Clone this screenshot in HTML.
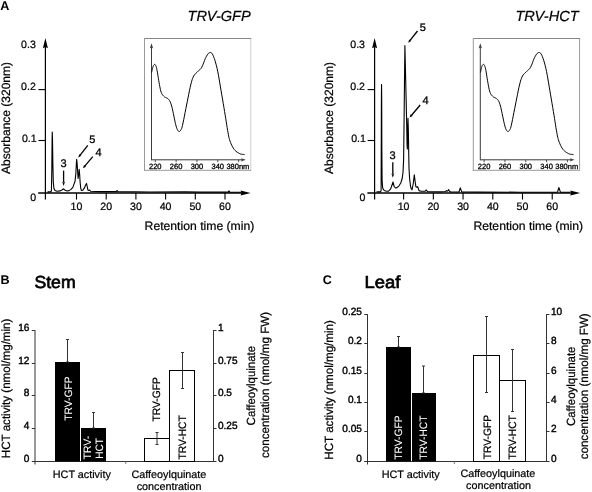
<!DOCTYPE html>
<html><head><meta charset="utf-8"><style>
html,body{margin:0;padding:0;background:#fff;}
svg{display:block;will-change:transform;font-family:"Liberation Sans", sans-serif;text-rendering:geometricPrecision;}
</style></head><body>
<svg width="592" height="492" viewBox="0 0 592 492">
<rect width="592" height="492" fill="#fff"/>
<text x="0.3" y="9.9" font-size="12.6" text-anchor="start" font-weight="bold" font-style="normal" fill="#000">A</text>
<line x1="45.4" y1="46" x2="45.4" y2="199.6" stroke="#000" stroke-width="1.2"/>
<path d="M45.4,38 L42.9,48.2 L45.4,47 L47.9,48.2 Z" fill="#000"/>
<line x1="38.2" y1="193" x2="244.6" y2="193" stroke="#000" stroke-width="1.4"/>
<path d="M250.6,193 L240.6,190.6 L241.5,193 L240.6,195.4 Z" fill="#000"/>
<line x1="38.4" y1="140.5" x2="45.4" y2="140.5" stroke="#000" stroke-width="1.1"/>
<line x1="38.4" y1="89.6" x2="45.4" y2="89.6" stroke="#000" stroke-width="1.1"/>
<text x="35.8" y="47.8" font-size="10.6" text-anchor="end" font-weight="normal" font-style="normal" fill="#000" stroke="#000" stroke-width="0.22">0.3</text>
<text x="35.8" y="90" font-size="10.6" text-anchor="end" font-weight="normal" font-style="normal" fill="#000" stroke="#000" stroke-width="0.22">0.2</text>
<text x="36.7" y="141.6" font-size="10.6" text-anchor="end" font-weight="normal" font-style="normal" fill="#000" stroke="#000" stroke-width="0.22">0.1</text>
<text x="36.1" y="200.6" font-size="10.6" text-anchor="end" font-weight="normal" font-style="normal" fill="#000" stroke="#000" stroke-width="0.22">0</text>
<line x1="76.5" y1="193" x2="76.5" y2="199.6" stroke="#000" stroke-width="1.1"/>
<text x="76.5" y="209.8" font-size="10.6" text-anchor="middle" font-weight="normal" font-style="normal" fill="#000" stroke="#000" stroke-width="0.22">10</text>
<line x1="106.2" y1="193" x2="106.2" y2="199.6" stroke="#000" stroke-width="1.1"/>
<text x="106.2" y="209.8" font-size="10.6" text-anchor="middle" font-weight="normal" font-style="normal" fill="#000" stroke="#000" stroke-width="0.22">20</text>
<line x1="135.9" y1="193" x2="135.9" y2="199.6" stroke="#000" stroke-width="1.1"/>
<text x="135.9" y="209.8" font-size="10.6" text-anchor="middle" font-weight="normal" font-style="normal" fill="#000" stroke="#000" stroke-width="0.22">30</text>
<line x1="165.6" y1="193" x2="165.6" y2="199.6" stroke="#000" stroke-width="1.1"/>
<text x="165.6" y="209.8" font-size="10.6" text-anchor="middle" font-weight="normal" font-style="normal" fill="#000" stroke="#000" stroke-width="0.22">40</text>
<line x1="195.3" y1="193" x2="195.3" y2="199.6" stroke="#000" stroke-width="1.1"/>
<text x="195.3" y="209.8" font-size="10.6" text-anchor="middle" font-weight="normal" font-style="normal" fill="#000" stroke="#000" stroke-width="0.22">50</text>
<line x1="225" y1="193" x2="225" y2="199.6" stroke="#000" stroke-width="1.1"/>
<text x="225" y="209.8" font-size="10.6" text-anchor="middle" font-weight="normal" font-style="normal" fill="#000" stroke="#000" stroke-width="0.22">60</text>
<path d="M47.50,191.90 L50.50,191.90 L51.40,191.00 L51.80,170.00 L52.10,140.00 L52.25,132.00 L52.50,140.00 L52.90,165.00 L53.30,182.00 L53.90,188.50 L55.00,190.40 L57.00,191.30 L60.00,190.90 L62.00,190.00 L63.60,188.80 L65.20,190.30 L67.00,191.00 L69.00,190.60 L71.00,189.40 L73.00,187.20 L73.80,184.60 L75.00,181.50 L75.80,174.00 L76.30,165.00 L76.65,159.30 L77.10,163.00 L77.60,171.00 L78.10,178.50 L78.60,175.00 L79.20,169.30 L79.70,175.00 L80.10,182.00 L80.70,187.80 L81.40,190.50 L82.80,190.20 L84.30,188.20 L85.50,185.20 L86.50,183.40 L87.20,186.50 L87.90,190.10 L88.80,190.50 L89.70,190.00 L90.50,191.20 L100.00,191.60 L116.30,191.60 L117.10,190.50 L117.90,191.60 L150.00,192.00 L185.00,191.90 L200.00,192.10 L228.30,192.10 L229.00,190.90 L229.70,192.10 L241.00,192.20" fill="none" stroke="#000" stroke-width="1.1" stroke-linejoin="round"/>
<text x="144.6" y="230" font-size="12.2" text-anchor="start" font-weight="normal" font-style="normal" fill="#000" stroke="#000" stroke-width="0.22">Retention time (min)</text>
<text x="10.4" y="118" font-size="12" text-anchor="middle" font-weight="normal" font-style="normal" fill="#000" transform="rotate(-90 10.4 118)" stroke="#000" stroke-width="0.22">Absorbance (320nm)</text>
<text x="187.5" y="20.5" font-size="14.6" text-anchor="start" font-weight="normal" font-style="italic" fill="#000" stroke="#000" stroke-width="0.22">TRV-GFP</text>
<line x1="374.6" y1="46" x2="374.6" y2="199.6" stroke="#000" stroke-width="1.2"/>
<path d="M374.6,38 L372.1,48.2 L374.6,47 L377.1,48.2 Z" fill="#000"/>
<line x1="367.4" y1="193" x2="574.2" y2="193" stroke="#000" stroke-width="1.4"/>
<path d="M580.2,193 L570.2,190.6 L571.1,193 L570.2,195.4 Z" fill="#000"/>
<line x1="367.6" y1="140.5" x2="374.6" y2="140.5" stroke="#000" stroke-width="1.1"/>
<line x1="367.6" y1="89.6" x2="374.6" y2="89.6" stroke="#000" stroke-width="1.1"/>
<text x="365" y="47.8" font-size="10.6" text-anchor="end" font-weight="normal" font-style="normal" fill="#000" stroke="#000" stroke-width="0.22">0.3</text>
<text x="365" y="90" font-size="10.6" text-anchor="end" font-weight="normal" font-style="normal" fill="#000" stroke="#000" stroke-width="0.22">0.2</text>
<text x="365.9" y="141.6" font-size="10.6" text-anchor="end" font-weight="normal" font-style="normal" fill="#000" stroke="#000" stroke-width="0.22">0.1</text>
<text x="365.3" y="200.6" font-size="10.6" text-anchor="end" font-weight="normal" font-style="normal" fill="#000" stroke="#000" stroke-width="0.22">0</text>
<line x1="403.62" y1="193" x2="403.62" y2="199.6" stroke="#000" stroke-width="1.1"/>
<text x="403.62" y="209.8" font-size="10.6" text-anchor="middle" font-weight="normal" font-style="normal" fill="#000" stroke="#000" stroke-width="0.22">10</text>
<line x1="433.34" y1="193" x2="433.34" y2="199.6" stroke="#000" stroke-width="1.1"/>
<text x="433.34" y="209.8" font-size="10.6" text-anchor="middle" font-weight="normal" font-style="normal" fill="#000" stroke="#000" stroke-width="0.22">20</text>
<line x1="463.06" y1="193" x2="463.06" y2="199.6" stroke="#000" stroke-width="1.1"/>
<text x="463.06" y="209.8" font-size="10.6" text-anchor="middle" font-weight="normal" font-style="normal" fill="#000" stroke="#000" stroke-width="0.22">30</text>
<line x1="492.78" y1="193" x2="492.78" y2="199.6" stroke="#000" stroke-width="1.1"/>
<text x="492.78" y="209.8" font-size="10.6" text-anchor="middle" font-weight="normal" font-style="normal" fill="#000" stroke="#000" stroke-width="0.22">40</text>
<line x1="522.5" y1="193" x2="522.5" y2="199.6" stroke="#000" stroke-width="1.1"/>
<text x="522.5" y="209.8" font-size="10.6" text-anchor="middle" font-weight="normal" font-style="normal" fill="#000" stroke="#000" stroke-width="0.22">50</text>
<line x1="552.22" y1="193" x2="552.22" y2="199.6" stroke="#000" stroke-width="1.1"/>
<text x="552.22" y="209.8" font-size="10.6" text-anchor="middle" font-weight="normal" font-style="normal" fill="#000" stroke="#000" stroke-width="0.22">60</text>
<path d="M376.50,191.90 L380.40,191.90 L381.10,190.80 L381.25,150.00 L381.40,100.00 L381.55,84.60 L381.70,100.00 L381.85,150.00 L382.10,180.00 L382.60,187.60 L383.20,189.20 L384.20,190.50 L386.50,191.30 L388.50,191.20 L390.50,189.20 L391.50,186.50 L393.00,182.00 L394.20,186.60 L395.50,188.00 L397.00,187.60 L399.00,185.80 L400.80,183.00 L402.20,178.50 L403.00,172.50 L403.60,160.00 L404.10,120.00 L404.50,80.00 L404.90,45.60 L405.50,72.00 L406.10,98.00 L406.70,125.00 L407.10,146.00 L407.35,149.00 L407.60,132.00 L408.00,118.40 L408.40,132.00 L408.70,152.00 L409.00,168.00 L409.60,178.50 L410.50,186.00 L411.20,188.60 L412.00,189.80 L413.20,184.00 L414.30,174.90 L415.20,182.00 L415.90,186.80 L416.80,187.30 L417.70,186.70 L419.00,190.60 L421.00,191.20 L425.00,191.30 L426.30,190.00 L427.50,191.60 L440.00,191.90 L445.50,191.50 L446.30,190.60 L447.20,191.30 L448.00,190.60 L448.60,189.60 L449.30,191.00 L450.50,192.00 L459.00,192.00 L459.80,189.50 L460.30,187.80 L460.90,189.60 L461.80,192.00 L480.00,192.10 L520.00,192.20 L557.60,192.10 L558.40,189.00 L558.90,187.60 L559.50,189.30 L560.40,192.10 L570.00,192.20" fill="none" stroke="#000" stroke-width="1.1" stroke-linejoin="round"/>
<text x="473.4" y="230" font-size="12.2" text-anchor="start" font-weight="normal" font-style="normal" fill="#000" stroke="#000" stroke-width="0.22">Retention time (min)</text>
<text x="333.2" y="118" font-size="12" text-anchor="middle" font-weight="normal" font-style="normal" fill="#000" transform="rotate(-90 333.2 118)" stroke="#000" stroke-width="0.22">Absorbance (320nm)</text>
<text x="515.4" y="20.5" font-size="14.6" text-anchor="start" font-weight="normal" font-style="italic" fill="#000" stroke="#000" stroke-width="0.22">TRV-HCT</text>
<text x="63.6" y="167" font-size="11" text-anchor="middle" font-weight="normal" font-style="normal" fill="#000" stroke="#000" stroke-width="0.3">3</text>
<line x1="63.6" y1="170.6" x2="63.6" y2="182" stroke="#000" stroke-width="1.3"/>
<path d="M63.6,186 L62.2,181.6 L63.6,182.6 L65,181.6 Z" fill="#000"/>
<text x="92.4" y="142.6" font-size="11" text-anchor="middle" font-weight="normal" font-style="normal" fill="#000" stroke="#000" stroke-width="0.3">5</text>
<line x1="87.8" y1="145.4" x2="79.9673" y2="155.376" stroke="#000" stroke-width="1.3"/>
<path d="M78.30,157.50 L79.21,154.15 L81.34,155.82 Z" fill="#000"/>
<text x="98.5" y="156.4" font-size="11" text-anchor="middle" font-weight="normal" font-style="normal" fill="#000" stroke="#000" stroke-width="0.3">4</text>
<line x1="92.8" y1="156.6" x2="84.7424" y2="166.138" stroke="#000" stroke-width="1.3"/>
<path d="M83.00,168.20 L84.03,164.88 L86.10,166.63 Z" fill="#000"/>
<text x="392.6" y="158.5" font-size="11" text-anchor="middle" font-weight="normal" font-style="normal" fill="#000" stroke="#000" stroke-width="0.3">3</text>
<line x1="392.8" y1="162.3" x2="392.8" y2="174" stroke="#000" stroke-width="1.3"/>
<path d="M392.8,177.8 L391.4,173.4 L392.8,174.4 L394.2,173.4 Z" fill="#000"/>
<text x="422.9" y="31.2" font-size="11" text-anchor="middle" font-weight="normal" font-style="normal" fill="#000" stroke="#000" stroke-width="0.3">5</text>
<line x1="417.5" y1="31" x2="409.871" y2="40.6794" stroke="#000" stroke-width="1.3"/>
<path d="M408.20,42.80 L409.12,39.45 L411.24,41.12 Z" fill="#000"/>
<text x="425.5" y="103.6" font-size="11" text-anchor="middle" font-weight="normal" font-style="normal" fill="#000" stroke="#000" stroke-width="0.3">4</text>
<line x1="420.2" y1="105" x2="411.338" y2="115.534" stroke="#000" stroke-width="1.3"/>
<path d="M409.60,117.60 L410.63,114.28 L412.69,116.02 Z" fill="#000"/>
<line x1="144.5" y1="38.5" x2="251.3" y2="38.5" stroke="#858585" stroke-width="1"/>
<line x1="144.5" y1="38" x2="144.5" y2="170.8" stroke="#9a9a9a" stroke-width="1"/>
<line x1="144" y1="170.3" x2="251.3" y2="170.3" stroke="#9a9a9a" stroke-width="1"/>
<line x1="250.8" y1="39" x2="250.8" y2="169.8" stroke="#cfcfcf" stroke-width="1"/>
<line x1="151.5" y1="46.5" x2="151.5" y2="160.3" stroke="#3a3a3a" stroke-width="1"/>
<path d="M151.5,43.3 L149.8,48.4 L151.5,47.2 L153.2,48.4 Z" fill="#3a3a3a"/>
<line x1="151.5" y1="159.8" x2="242" y2="159.8" stroke="#3a3a3a" stroke-width="1"/>
<path d="M245.8,159.8 L241,158.2 L241.9,159.8 L241,161.4 Z" fill="#3a3a3a"/>
<line x1="155.3" y1="159.8" x2="155.3" y2="162.2" stroke="#3a3a3a" stroke-width="0.9"/>
<text x="155.3" y="169.3" font-size="7.5" text-anchor="middle" font-weight="normal" font-style="normal" fill="#000" stroke="#000" stroke-width="0.3">220</text>
<line x1="176.124" y1="159.8" x2="176.124" y2="162.2" stroke="#3a3a3a" stroke-width="0.9"/>
<text x="176.124" y="169.3" font-size="7.5" text-anchor="middle" font-weight="normal" font-style="normal" fill="#000" stroke="#000" stroke-width="0.3">260</text>
<line x1="196.948" y1="159.8" x2="196.948" y2="162.2" stroke="#3a3a3a" stroke-width="0.9"/>
<text x="196.948" y="169.3" font-size="7.5" text-anchor="middle" font-weight="normal" font-style="normal" fill="#000" stroke="#000" stroke-width="0.3">300</text>
<line x1="217.772" y1="159.8" x2="217.772" y2="162.2" stroke="#3a3a3a" stroke-width="0.9"/>
<text x="217.772" y="169.3" font-size="7.5" text-anchor="middle" font-weight="normal" font-style="normal" fill="#000" stroke="#000" stroke-width="0.3">340</text>
<line x1="238.596" y1="159.8" x2="238.596" y2="162.2" stroke="#3a3a3a" stroke-width="0.9"/>
<text x="237.896" y="169.3" font-size="7.5" text-anchor="middle" font-weight="normal" font-style="normal" fill="#000" stroke="#000" stroke-width="0.3">380nm</text>
<path d="M151.60,72.50 L151.70,72.05 L151.83,71.43 L151.99,70.69 L152.16,69.91 L152.33,69.16 L152.50,68.50 L152.66,67.91 L152.82,67.32 L152.98,66.76 L153.15,66.24 L153.32,65.78 L153.50,65.40 L153.69,65.09 L153.89,64.83 L154.09,64.63 L154.30,64.49 L154.50,64.42 L154.70,64.40 L154.89,64.43 L155.07,64.50 L155.24,64.63 L155.42,64.84 L155.61,65.16 L155.80,65.60 L156.00,66.12 L156.19,66.69 L156.39,67.36 L156.61,68.19 L156.84,69.22 L157.10,70.50 L157.39,72.14 L157.71,74.12 L158.05,76.31 L158.40,78.56 L158.75,80.73 L159.10,82.70 L159.43,84.51 L159.76,86.29 L160.09,87.99 L160.43,89.59 L160.80,91.04 L161.20,92.30 L161.64,93.35 L162.10,94.20 L162.59,94.91 L163.11,95.52 L163.64,96.07 L164.20,96.60 L164.80,97.08 L165.46,97.45 L166.14,97.77 L166.81,98.07 L167.44,98.40 L168.00,98.80 L168.47,99.23 L168.89,99.65 L169.26,100.09 L169.60,100.61 L169.95,101.23 L170.30,102.00 L170.65,102.88 L170.98,103.81 L171.31,104.86 L171.64,106.06 L172.00,107.46 L172.40,109.10 L172.86,111.15 L173.37,113.60 L173.91,116.26 L174.45,118.90 L174.95,121.31 L175.40,123.30 L175.78,124.84 L176.12,126.11 L176.43,127.16 L176.71,128.04 L177.00,128.80 L177.30,129.50 L177.61,130.12 L177.91,130.61 L178.21,130.98 L178.51,131.25 L178.81,131.42 L179.10,131.50 L179.39,131.49 L179.67,131.37 L179.96,131.16 L180.24,130.86 L180.52,130.47 L180.80,130.00 L181.06,129.60 L181.28,129.28 L181.50,128.88 L181.76,128.22 L182.08,127.12 L182.50,125.40 L183.04,122.91 L183.69,119.76 L184.40,116.16 L185.14,112.36 L185.89,108.56 L186.60,105.00 L187.30,101.52 L188.01,97.90 L188.72,94.29 L189.41,90.84 L190.08,87.69 L190.70,85.00 L191.25,82.81 L191.74,81.02 L192.20,79.53 L192.66,78.26 L193.15,77.11 L193.70,76.00 L194.32,74.99 L194.99,74.16 L195.69,73.46 L196.40,72.82 L197.11,72.19 L197.80,71.50 L198.47,70.84 L199.14,70.26 L199.80,69.69 L200.46,69.04 L201.13,68.24 L201.80,67.20 L202.48,65.81 L203.17,64.12 L203.87,62.28 L204.56,60.42 L205.24,58.71 L205.90,57.30 L206.54,56.13 L207.17,55.08 L207.79,54.17 L208.40,53.43 L209.01,52.90 L209.60,52.60 L210.18,52.49 L210.73,52.53 L211.28,52.77 L211.83,53.27 L212.40,54.06 L213.00,55.20 L213.64,56.69 L214.32,58.51 L215.01,60.62 L215.71,63.00 L216.41,65.64 L217.10,68.50 L217.77,71.67 L218.44,75.19 L219.10,78.96 L219.76,82.88 L220.43,86.86 L221.10,90.80 L221.79,94.83 L222.51,99.04 L223.22,103.31 L223.93,107.51 L224.59,111.52 L225.20,115.20 L225.75,118.60 L226.26,121.82 L226.73,124.84 L227.17,127.65 L227.59,130.21 L228.00,132.50 L228.36,134.43 L228.65,135.99 L228.92,137.31 L229.21,138.51 L229.55,139.70 L230.00,141.00 L230.54,142.44 L231.16,143.93 L231.83,145.41 L232.54,146.84 L233.31,148.15 L234.10,149.30 L234.95,150.29 L235.88,151.15 L236.84,151.91 L237.82,152.56 L238.78,153.12 L239.70,153.60 L240.63,153.97 L241.60,154.21 L242.55,154.37 L243.43,154.46 L244.16,154.53 L244.70,154.60" fill="none" stroke="#000" stroke-width="1.0"/>
<line x1="473.3" y1="38.5" x2="580.1" y2="38.5" stroke="#858585" stroke-width="1"/>
<line x1="473.3" y1="38" x2="473.3" y2="170.8" stroke="#9a9a9a" stroke-width="1"/>
<line x1="472.8" y1="170.3" x2="580.1" y2="170.3" stroke="#9a9a9a" stroke-width="1"/>
<line x1="579.6" y1="39" x2="579.6" y2="169.8" stroke="#9a9a9a" stroke-width="1"/>
<line x1="480.3" y1="46.5" x2="480.3" y2="160.3" stroke="#3a3a3a" stroke-width="1"/>
<path d="M480.3,43.3 L478.6,48.4 L480.3,47.2 L482,48.4 Z" fill="#3a3a3a"/>
<line x1="480.3" y1="159.8" x2="570.8" y2="159.8" stroke="#3a3a3a" stroke-width="1"/>
<path d="M574.6,159.8 L569.8,158.2 L570.7,159.8 L569.8,161.4 Z" fill="#3a3a3a"/>
<line x1="484.1" y1="159.8" x2="484.1" y2="162.2" stroke="#3a3a3a" stroke-width="0.9"/>
<text x="484.1" y="169.3" font-size="7.5" text-anchor="middle" font-weight="normal" font-style="normal" fill="#000" stroke="#000" stroke-width="0.3">220</text>
<line x1="504.924" y1="159.8" x2="504.924" y2="162.2" stroke="#3a3a3a" stroke-width="0.9"/>
<text x="504.924" y="169.3" font-size="7.5" text-anchor="middle" font-weight="normal" font-style="normal" fill="#000" stroke="#000" stroke-width="0.3">260</text>
<line x1="525.748" y1="159.8" x2="525.748" y2="162.2" stroke="#3a3a3a" stroke-width="0.9"/>
<text x="525.748" y="169.3" font-size="7.5" text-anchor="middle" font-weight="normal" font-style="normal" fill="#000" stroke="#000" stroke-width="0.3">300</text>
<line x1="546.572" y1="159.8" x2="546.572" y2="162.2" stroke="#3a3a3a" stroke-width="0.9"/>
<text x="546.572" y="169.3" font-size="7.5" text-anchor="middle" font-weight="normal" font-style="normal" fill="#000" stroke="#000" stroke-width="0.3">340</text>
<line x1="567.396" y1="159.8" x2="567.396" y2="162.2" stroke="#3a3a3a" stroke-width="0.9"/>
<text x="566.696" y="169.3" font-size="7.5" text-anchor="middle" font-weight="normal" font-style="normal" fill="#000" stroke="#000" stroke-width="0.3">380nm</text>
<path d="M480.40,72.50 L480.50,72.05 L480.63,71.43 L480.79,70.69 L480.96,69.91 L481.13,69.16 L481.30,68.50 L481.46,67.91 L481.62,67.32 L481.78,66.76 L481.95,66.24 L482.12,65.78 L482.30,65.40 L482.49,65.09 L482.69,64.83 L482.89,64.63 L483.10,64.49 L483.30,64.42 L483.50,64.40 L483.69,64.43 L483.87,64.50 L484.04,64.63 L484.22,64.84 L484.41,65.16 L484.60,65.60 L484.80,66.12 L484.99,66.69 L485.19,67.36 L485.41,68.19 L485.64,69.22 L485.90,70.50 L486.19,72.14 L486.51,74.12 L486.85,76.31 L487.20,78.56 L487.55,80.73 L487.90,82.70 L488.23,84.51 L488.56,86.29 L488.89,87.99 L489.23,89.59 L489.60,91.04 L490.00,92.30 L490.44,93.35 L490.90,94.20 L491.39,94.91 L491.91,95.52 L492.44,96.07 L493.00,96.60 L493.60,97.08 L494.26,97.45 L494.94,97.77 L495.61,98.07 L496.24,98.40 L496.80,98.80 L497.27,99.23 L497.69,99.65 L498.06,100.09 L498.40,100.61 L498.75,101.23 L499.10,102.00 L499.45,102.88 L499.78,103.81 L500.11,104.86 L500.44,106.06 L500.80,107.46 L501.20,109.10 L501.66,111.15 L502.17,113.60 L502.71,116.26 L503.25,118.90 L503.75,121.31 L504.20,123.30 L504.58,124.84 L504.92,126.11 L505.23,127.16 L505.51,128.04 L505.80,128.80 L506.10,129.50 L506.41,130.12 L506.71,130.61 L507.01,130.98 L507.31,131.25 L507.61,131.42 L507.90,131.50 L508.19,131.49 L508.47,131.37 L508.76,131.16 L509.04,130.86 L509.32,130.47 L509.60,130.00 L509.86,129.60 L510.08,129.28 L510.30,128.88 L510.56,128.22 L510.88,127.12 L511.30,125.40 L511.84,122.91 L512.49,119.76 L513.20,116.16 L513.94,112.36 L514.69,108.56 L515.40,105.00 L516.10,101.52 L516.81,97.90 L517.52,94.29 L518.21,90.84 L518.88,87.69 L519.50,85.00 L520.05,82.81 L520.54,81.02 L521.00,79.53 L521.46,78.26 L521.95,77.11 L522.50,76.00 L523.12,74.99 L523.79,74.16 L524.49,73.46 L525.20,72.82 L525.91,72.19 L526.60,71.50 L527.27,70.84 L527.94,70.26 L528.60,69.69 L529.26,69.04 L529.93,68.24 L530.60,67.20 L531.28,65.81 L531.97,64.12 L532.67,62.28 L533.36,60.42 L534.04,58.71 L534.70,57.30 L535.34,56.13 L535.97,55.08 L536.59,54.17 L537.20,53.43 L537.81,52.90 L538.40,52.60 L538.98,52.49 L539.53,52.53 L540.07,52.77 L540.63,53.27 L541.20,54.06 L541.80,55.20 L542.44,56.69 L543.12,58.51 L543.81,60.62 L544.51,63.00 L545.21,65.64 L545.90,68.50 L546.57,71.67 L547.24,75.19 L547.90,78.96 L548.56,82.88 L549.23,86.86 L549.90,90.80 L550.59,94.83 L551.31,99.04 L552.02,103.31 L552.73,107.51 L553.39,111.52 L554.00,115.20 L554.55,118.60 L555.06,121.82 L555.53,124.84 L555.97,127.65 L556.39,130.21 L556.80,132.50 L557.16,134.43 L557.45,135.99 L557.72,137.31 L558.01,138.51 L558.35,139.70 L558.80,141.00 L559.34,142.44 L559.96,143.93 L560.62,145.41 L561.34,146.84 L562.11,148.15 L562.90,149.30 L563.75,150.29 L564.68,151.15 L565.64,151.91 L566.62,152.56 L567.58,153.12 L568.50,153.60 L569.43,153.97 L570.40,154.21 L571.35,154.37 L572.23,154.46 L572.96,154.53 L573.50,154.60" fill="none" stroke="#000" stroke-width="1.0"/>
<text x="0.6" y="284.4" font-size="12.6" text-anchor="start" font-weight="bold" font-style="normal" fill="#000">B</text>
<text x="34.4" y="287.8" font-size="17.4" text-anchor="start" font-weight="normal" font-style="normal" fill="#000" textLength="41.2" lengthAdjust="spacingAndGlyphs" stroke="#000" stroke-width="0.7">Stem</text>
<line x1="35" y1="330.1" x2="35" y2="464.5" stroke="#333" stroke-width="1"/>
<line x1="213.5" y1="330.1" x2="213.5" y2="462" stroke="#333" stroke-width="1"/>
<line x1="32" y1="461.5" x2="213.5" y2="461.5" stroke="#333" stroke-width="1"/>
<line x1="125.8" y1="461.5" x2="125.8" y2="464" stroke="#777" stroke-width="1"/>
<line x1="31.8" y1="330.5" x2="35" y2="330.5" stroke="#333" stroke-width="1"/>
<text x="29.4" y="330.6" font-size="10.4" text-anchor="end" font-weight="normal" font-style="normal" fill="#000" textLength="11.2" lengthAdjust="spacingAndGlyphs" stroke="#000" stroke-width="0.4">16</text>
<line x1="31.8" y1="363.5" x2="35" y2="363.5" stroke="#333" stroke-width="1"/>
<text x="29.4" y="363.6" font-size="10.4" text-anchor="end" font-weight="normal" font-style="normal" fill="#000" textLength="11.2" lengthAdjust="spacingAndGlyphs" stroke="#000" stroke-width="0.4">12</text>
<line x1="31.8" y1="395.5" x2="35" y2="395.5" stroke="#333" stroke-width="1"/>
<text x="29.4" y="395.6" font-size="10.4" text-anchor="end" font-weight="normal" font-style="normal" fill="#000" textLength="5.6" lengthAdjust="spacingAndGlyphs" stroke="#000" stroke-width="0.4">8</text>
<line x1="31.8" y1="428.5" x2="35" y2="428.5" stroke="#333" stroke-width="1"/>
<text x="29.4" y="428.6" font-size="10.4" text-anchor="end" font-weight="normal" font-style="normal" fill="#000" textLength="5.6" lengthAdjust="spacingAndGlyphs" stroke="#000" stroke-width="0.4">4</text>
<line x1="31.8" y1="461.5" x2="35" y2="461.5" stroke="#333" stroke-width="1"/>
<text x="29.4" y="461.6" font-size="10.4" text-anchor="end" font-weight="normal" font-style="normal" fill="#000" textLength="5.6" lengthAdjust="spacingAndGlyphs" stroke="#000" stroke-width="0.4">0</text>
<line x1="213.5" y1="330.5" x2="216.5" y2="330.5" stroke="#333" stroke-width="1"/>
<text x="217.9" y="330.6" font-size="10.4" text-anchor="start" font-weight="normal" font-style="normal" fill="#000" textLength="5.6" lengthAdjust="spacingAndGlyphs" stroke="#000" stroke-width="0.4">1</text>
<line x1="213.5" y1="363.5" x2="216.5" y2="363.5" stroke="#333" stroke-width="1"/>
<text x="217.9" y="363.6" font-size="10.4" text-anchor="start" font-weight="normal" font-style="normal" fill="#000" textLength="19.6" lengthAdjust="spacingAndGlyphs" stroke="#000" stroke-width="0.4">0.75</text>
<line x1="213.5" y1="395.5" x2="216.5" y2="395.5" stroke="#333" stroke-width="1"/>
<text x="217.9" y="395.6" font-size="10.4" text-anchor="start" font-weight="normal" font-style="normal" fill="#000" textLength="14" lengthAdjust="spacingAndGlyphs" stroke="#000" stroke-width="0.4">0.5</text>
<line x1="213.5" y1="428.5" x2="216.5" y2="428.5" stroke="#333" stroke-width="1"/>
<text x="217.9" y="428.6" font-size="10.4" text-anchor="start" font-weight="normal" font-style="normal" fill="#000" textLength="19.6" lengthAdjust="spacingAndGlyphs" stroke="#000" stroke-width="0.4">0.25</text>
<line x1="213.5" y1="461.5" x2="216.5" y2="461.5" stroke="#333" stroke-width="1"/>
<text x="217.9" y="461.6" font-size="10.4" text-anchor="start" font-weight="normal" font-style="normal" fill="#000" textLength="5.6" lengthAdjust="spacingAndGlyphs" stroke="#000" stroke-width="0.4">0</text>
<rect x="55" y="362" width="25" height="99.5" fill="#000"/>
<rect x="81" y="428" width="25" height="33.5" fill="#000"/>
<rect x="144.5" y="438.5" width="25" height="23" fill="#fff" stroke="#000" stroke-width="1"/>
<rect x="169.5" y="370.5" width="25" height="91" fill="#fff" stroke="#000" stroke-width="1"/>
<line x1="67.5" y1="339.5" x2="67.5" y2="362" stroke="#333" stroke-width="1"/>
<line x1="66" y1="339.5" x2="69" y2="339.5" stroke="#333" stroke-width="1"/>
<line x1="66" y1="362" x2="69" y2="362" stroke="#333" stroke-width="1"/>
<line x1="93.5" y1="412.5" x2="93.5" y2="428" stroke="#333" stroke-width="1"/>
<line x1="92" y1="412.5" x2="95" y2="412.5" stroke="#333" stroke-width="1"/>
<line x1="92" y1="428" x2="95" y2="428" stroke="#333" stroke-width="1"/>
<line x1="157" y1="432.5" x2="157" y2="444.5" stroke="#333" stroke-width="1"/>
<line x1="155.5" y1="432.5" x2="158.5" y2="432.5" stroke="#333" stroke-width="1"/>
<line x1="155.5" y1="444.5" x2="158.5" y2="444.5" stroke="#333" stroke-width="1"/>
<line x1="182.5" y1="352.5" x2="182.5" y2="388.5" stroke="#333" stroke-width="1"/>
<line x1="181" y1="352.5" x2="184" y2="352.5" stroke="#333" stroke-width="1"/>
<line x1="181" y1="388.5" x2="184" y2="388.5" stroke="#333" stroke-width="1"/>
<text x="71.7" y="398.5" font-size="10.7" text-anchor="middle" font-weight="normal" font-style="normal" fill="#fff" transform="rotate(-90 71.7 398.5)" textLength="44.3259" lengthAdjust="spacingAndGlyphs" stroke="#fff" stroke-width="0.05">TRV-GFP</text>
<text x="90.6" y="447.6" font-size="10.7" text-anchor="middle" font-weight="normal" font-style="normal" fill="#fff" transform="rotate(-90 90.6 447.6)" textLength="23.5633" lengthAdjust="spacingAndGlyphs" stroke="#fff" stroke-width="0.05">TRV-</text>
<text x="103" y="448.4" font-size="10.7" text-anchor="middle" font-weight="normal" font-style="normal" fill="#fff" transform="rotate(-90 103 448.4)" textLength="20.7575" lengthAdjust="spacingAndGlyphs" stroke="#fff" stroke-width="0.05">HCT</text>
<text x="160.5" y="399.3" font-size="10.7" text-anchor="middle" font-weight="normal" font-style="normal" fill="#000" transform="rotate(-90 160.5 399.3)" textLength="44.3259" lengthAdjust="spacingAndGlyphs" stroke="#000" stroke-width="0.22">TRV-GFP</text>
<text x="186.2" y="437.4" font-size="10.7" text-anchor="middle" font-weight="normal" font-style="normal" fill="#000" transform="rotate(-90 186.2 437.4)" textLength="44.3208" lengthAdjust="spacingAndGlyphs" stroke="#000" stroke-width="0.22">TRV-HCT</text>
<text x="10.2" y="388.4" font-size="11.9" text-anchor="middle" font-weight="normal" font-style="normal" fill="#000" transform="rotate(-90 10.2 388.4)" textLength="139.6" lengthAdjust="spacingAndGlyphs" stroke="#000" stroke-width="0.22">HCT activity (nmol/mg/min)</text>
<text x="255.3" y="385.6" font-size="11.9" text-anchor="middle" font-weight="normal" font-style="normal" fill="#000" transform="rotate(-90 255.3 385.6)" textLength="79.6" lengthAdjust="spacingAndGlyphs" stroke="#000" stroke-width="0.22">Caffeoylquinate</text>
<text x="268.8" y="385" font-size="11.9" text-anchor="middle" font-weight="normal" font-style="normal" fill="#000" transform="rotate(-90 268.8 385)" textLength="146" lengthAdjust="spacingAndGlyphs" stroke="#000" stroke-width="0.22">concentration (nmol/mg FW)</text>
<text x="81.8" y="477.5" font-size="10.8" text-anchor="middle" font-weight="normal" font-style="normal" fill="#000" stroke="#000" stroke-width="0.22">HCT activity</text>
<text x="168.9" y="477.5" font-size="10.8" text-anchor="middle" font-weight="normal" font-style="normal" fill="#000" stroke="#000" stroke-width="0.22">Caffeoylquinate</text>
<text x="169.1" y="490.3" font-size="10.8" text-anchor="middle" font-weight="normal" font-style="normal" fill="#000" stroke="#000" stroke-width="0.22">concentration</text>
<text x="322.8" y="284.4" font-size="12.6" text-anchor="start" font-weight="bold" font-style="normal" fill="#000">C</text>
<text x="364.6" y="287.6" font-size="17.4" text-anchor="start" font-weight="normal" font-style="normal" fill="#000" textLength="35.8" lengthAdjust="spacingAndGlyphs" stroke="#000" stroke-width="0.7">Leaf</text>
<line x1="367.5" y1="314.1" x2="367.5" y2="464.5" stroke="#333" stroke-width="1"/>
<line x1="546.5" y1="314.1" x2="546.5" y2="462" stroke="#333" stroke-width="1"/>
<line x1="364.5" y1="461.5" x2="546.5" y2="461.5" stroke="#333" stroke-width="1"/>
<line x1="454.3" y1="461.5" x2="454.3" y2="464" stroke="#777" stroke-width="1"/>
<line x1="364.3" y1="314.5" x2="367.5" y2="314.5" stroke="#333" stroke-width="1"/>
<text x="361.9" y="314.6" font-size="10.4" text-anchor="end" font-weight="normal" font-style="normal" fill="#000" textLength="19.6" lengthAdjust="spacingAndGlyphs" stroke="#000" stroke-width="0.4">0.25</text>
<line x1="364.3" y1="343.5" x2="367.5" y2="343.5" stroke="#333" stroke-width="1"/>
<text x="361.9" y="343.6" font-size="10.4" text-anchor="end" font-weight="normal" font-style="normal" fill="#000" textLength="14" lengthAdjust="spacingAndGlyphs" stroke="#000" stroke-width="0.4">0.2</text>
<line x1="364.3" y1="373.5" x2="367.5" y2="373.5" stroke="#333" stroke-width="1"/>
<text x="361.9" y="373.6" font-size="10.4" text-anchor="end" font-weight="normal" font-style="normal" fill="#000" textLength="19.6" lengthAdjust="spacingAndGlyphs" stroke="#000" stroke-width="0.4">0.15</text>
<line x1="364.3" y1="402.5" x2="367.5" y2="402.5" stroke="#333" stroke-width="1"/>
<text x="361.9" y="402.6" font-size="10.4" text-anchor="end" font-weight="normal" font-style="normal" fill="#000" textLength="14" lengthAdjust="spacingAndGlyphs" stroke="#000" stroke-width="0.4">0.1</text>
<line x1="364.3" y1="431.5" x2="367.5" y2="431.5" stroke="#333" stroke-width="1"/>
<text x="361.9" y="431.6" font-size="10.4" text-anchor="end" font-weight="normal" font-style="normal" fill="#000" textLength="19.6" lengthAdjust="spacingAndGlyphs" stroke="#000" stroke-width="0.4">0.05</text>
<line x1="364.3" y1="461.5" x2="367.5" y2="461.5" stroke="#333" stroke-width="1"/>
<text x="361.9" y="461.6" font-size="10.4" text-anchor="end" font-weight="normal" font-style="normal" fill="#000" textLength="5.6" lengthAdjust="spacingAndGlyphs" stroke="#000" stroke-width="0.4">0</text>
<line x1="546.5" y1="314.5" x2="549.5" y2="314.5" stroke="#333" stroke-width="1"/>
<text x="550.9" y="314.6" font-size="10.4" text-anchor="start" font-weight="normal" font-style="normal" fill="#000" textLength="11.2" lengthAdjust="spacingAndGlyphs" stroke="#000" stroke-width="0.4">10</text>
<line x1="546.5" y1="343.5" x2="549.5" y2="343.5" stroke="#333" stroke-width="1"/>
<text x="550.9" y="343.6" font-size="10.4" text-anchor="start" font-weight="normal" font-style="normal" fill="#000" textLength="5.6" lengthAdjust="spacingAndGlyphs" stroke="#000" stroke-width="0.4">8</text>
<line x1="546.5" y1="373.5" x2="549.5" y2="373.5" stroke="#333" stroke-width="1"/>
<text x="550.9" y="373.6" font-size="10.4" text-anchor="start" font-weight="normal" font-style="normal" fill="#000" textLength="5.6" lengthAdjust="spacingAndGlyphs" stroke="#000" stroke-width="0.4">6</text>
<line x1="546.5" y1="402.5" x2="549.5" y2="402.5" stroke="#333" stroke-width="1"/>
<text x="550.9" y="402.6" font-size="10.4" text-anchor="start" font-weight="normal" font-style="normal" fill="#000" textLength="5.6" lengthAdjust="spacingAndGlyphs" stroke="#000" stroke-width="0.4">4</text>
<line x1="546.5" y1="431.5" x2="549.5" y2="431.5" stroke="#333" stroke-width="1"/>
<text x="550.9" y="431.6" font-size="10.4" text-anchor="start" font-weight="normal" font-style="normal" fill="#000" textLength="5.6" lengthAdjust="spacingAndGlyphs" stroke="#000" stroke-width="0.4">2</text>
<line x1="546.5" y1="461.5" x2="549.5" y2="461.5" stroke="#333" stroke-width="1"/>
<text x="550.9" y="461.6" font-size="10.4" text-anchor="start" font-weight="normal" font-style="normal" fill="#000" textLength="5.6" lengthAdjust="spacingAndGlyphs" stroke="#000" stroke-width="0.4">0</text>
<rect x="386" y="347" width="25" height="114.5" fill="#000"/>
<rect x="412" y="393" width="24" height="68.5" fill="#000"/>
<rect x="473.5" y="355.5" width="26" height="106" fill="#fff" stroke="#000" stroke-width="1"/>
<rect x="499.5" y="380.5" width="26" height="81" fill="#fff" stroke="#000" stroke-width="1"/>
<line x1="398.5" y1="336.5" x2="398.5" y2="347" stroke="#333" stroke-width="1"/>
<line x1="397" y1="336.5" x2="400" y2="336.5" stroke="#333" stroke-width="1"/>
<line x1="397" y1="347" x2="400" y2="347" stroke="#333" stroke-width="1"/>
<line x1="423.5" y1="366" x2="423.5" y2="393" stroke="#333" stroke-width="1"/>
<line x1="422" y1="366" x2="425" y2="366" stroke="#333" stroke-width="1"/>
<line x1="422" y1="393" x2="425" y2="393" stroke="#333" stroke-width="1"/>
<line x1="486.5" y1="316.5" x2="486.5" y2="392.5" stroke="#333" stroke-width="1"/>
<line x1="485" y1="316.5" x2="488" y2="316.5" stroke="#333" stroke-width="1"/>
<line x1="485" y1="392.5" x2="488" y2="392.5" stroke="#333" stroke-width="1"/>
<line x1="512.5" y1="349.5" x2="512.5" y2="411.5" stroke="#333" stroke-width="1"/>
<line x1="511" y1="349.5" x2="514" y2="349.5" stroke="#333" stroke-width="1"/>
<line x1="511" y1="411.5" x2="514" y2="411.5" stroke="#333" stroke-width="1"/>
<text x="401.7" y="437.6" font-size="10.7" text-anchor="middle" font-weight="normal" font-style="normal" fill="#fff" transform="rotate(-90 401.7 437.6)" textLength="44.3259" lengthAdjust="spacingAndGlyphs" stroke="#fff" stroke-width="0.05">TRV-GFP</text>
<text x="426.9" y="437.6" font-size="10.7" text-anchor="middle" font-weight="normal" font-style="normal" fill="#fff" transform="rotate(-90 426.9 437.6)" textLength="44.3208" lengthAdjust="spacingAndGlyphs" stroke="#fff" stroke-width="0.05">TRV-HCT</text>
<text x="491.2" y="437" font-size="10.7" text-anchor="middle" font-weight="normal" font-style="normal" fill="#000" transform="rotate(-90 491.2 437)" textLength="44.3259" lengthAdjust="spacingAndGlyphs" stroke="#000" stroke-width="0.22">TRV-GFP</text>
<text x="516.5" y="437.3" font-size="10.7" text-anchor="middle" font-weight="normal" font-style="normal" fill="#000" transform="rotate(-90 516.5 437.3)" textLength="44.3208" lengthAdjust="spacingAndGlyphs" stroke="#000" stroke-width="0.22">TRV-HCT</text>
<text x="333.5" y="389.9" font-size="11.9" text-anchor="middle" font-weight="normal" font-style="normal" fill="#000" transform="rotate(-90 333.5 389.9)" textLength="139.6" lengthAdjust="spacingAndGlyphs" stroke="#000" stroke-width="0.22">HCT activity (nmol/mg/min)</text>
<text x="575.4" y="386.3" font-size="11.9" text-anchor="middle" font-weight="normal" font-style="normal" fill="#000" transform="rotate(-90 575.4 386.3)" textLength="79.6" lengthAdjust="spacingAndGlyphs" stroke="#000" stroke-width="0.22">Caffeoylquinate</text>
<text x="587.8" y="386.3" font-size="11.9" text-anchor="middle" font-weight="normal" font-style="normal" fill="#000" transform="rotate(-90 587.8 386.3)" textLength="146" lengthAdjust="spacingAndGlyphs" stroke="#000" stroke-width="0.22">concentration (nmol/mg FW)</text>
<text x="410.7" y="477.5" font-size="10.8" text-anchor="middle" font-weight="normal" font-style="normal" fill="#000" stroke="#000" stroke-width="0.22">HCT activity</text>
<text x="497.9" y="477.4" font-size="10.8" text-anchor="middle" font-weight="normal" font-style="normal" fill="#000" stroke="#000" stroke-width="0.22">Caffeoylquinate</text>
<text x="498.5" y="489" font-size="10.8" text-anchor="middle" font-weight="normal" font-style="normal" fill="#000" stroke="#000" stroke-width="0.22">concentration</text>
</svg>
</body></html>
